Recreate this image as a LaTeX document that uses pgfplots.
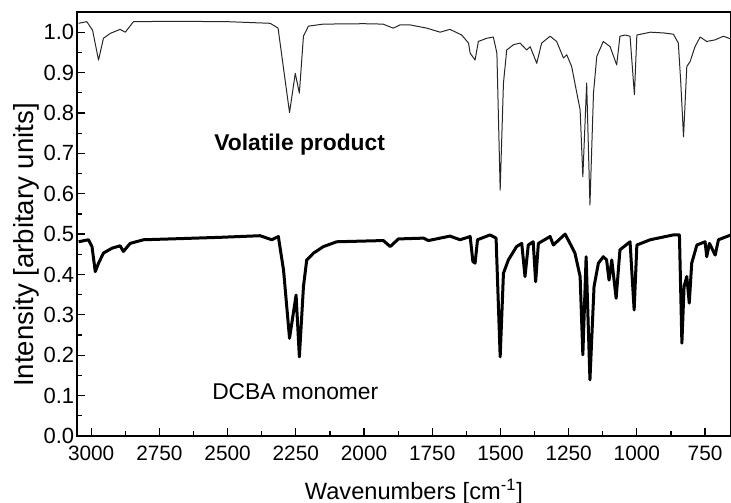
\documentclass[border=0pt]{standalone}
\usepackage{pgfplots}
\pgfplotsset{compat=1.18}
\usetikzlibrary{calc}
\usepackage{fontspec}
\setmainfont{Liberation Sans}
\begin{document}
\begin{tikzpicture}
\begin{axis}[
  name=ax,
  scale only axis, width=327pt, height=212pt,
  x dir=reverse, xmin=655, xmax=3052, ymin=0, ymax=1.05,
  xtick={750,1000,...,3000}, minor x tick num=1,
  ytick={0,0.1,...,1.0}, minor y tick num=1,
  tick pos=left, tick align=inside,
  major tick length=4pt, minor tick length=2.5pt,
  axis line style={line width=0.8pt}, tick style={line width=0.6pt, black},
  /pgf/number format/assume math mode=true,
  yticklabel style={font=\fontsize{11}{13}\selectfont, inner sep=0pt, xshift=-1.2pt,
     /pgf/number format/.cd, fixed, fixed zerofill, precision=1},
  xticklabel style={font=\fontsize{10.4}{12}\selectfont, inner sep=0pt, yshift=-5pt,
     /pgf/number format/1000 sep={}},
  scaled y ticks=false,
  xlabel={Wavenumbers [cm\textsuperscript{-1}]},
  ylabel={Intensity [arbitary units]},
  xlabel style={font=\fontsize{11.8}{14}\selectfont, inner sep=0pt,
     at={($(axis description cs:0.5,0)+(5pt,-21.5pt)$)}, anchor=north},
  ylabel style={font=\fontsize{13.8}{16}\selectfont, inner sep=0pt,
     at={($(axis description cs:0,0.5)+(-32pt,-10.5pt)$)}, anchor=north},
  clip=true,
  every axis plot/.append style={line join=round},
]
\addplot[line width=0.5pt, black!85] coordinates {
(3046,1.022) (3016,1.026) (2995,1.005) (2973,0.931) (2955,0.985) (2930,0.997) (2894,1.007) (2875,1.0) (2845,1.026)
(2700,1.027) (2500,1.026) (2344,1.022) (2315,1.01) (2296,0.915) (2273,0.801) (2252,0.898) (2237,0.849) (2222,0.99)
(2204,1.015) (2149,1.02) (2000,1.021) (1930,1.02) (1893,1.01) (1868,1.018) (1831,1.018) (1770,1.01) (1721,1.0)
(1685,1.007) (1642,0.993) (1617,0.973) (1611,0.948) (1593,0.931) (1581,0.977) (1550,0.985) (1526,0.988) (1513,0.948)
(1501,0.609) (1489,0.874) (1477,0.956) (1452,0.969) (1428,0.973) (1404,0.956) (1391,0.964) (1367,0.923) (1349,0.973)
(1318,0.99) (1294,0.977) (1269,0.936) (1257,0.944) (1239,0.915) (1220,0.849) (1208,0.808) (1198,0.642) (1184,0.874)
(1172,0.572) (1159,0.849) (1147,0.94) (1123,0.977) (1098,0.964) (1074,0.919) (1062,0.99) (1043,0.993) (1025,0.99)
(1009,0.845) (1000,0.993) (950,1.0) (900,0.998) (866,0.995) (848,0.973) (839,0.874) (829,0.741) (817,0.915)
(805,0.927) (787,0.964) (768,0.988) (744,0.977) (713,0.981) (683,0.99) (655,0.983)
};
\addplot[line width=1.5pt, black] coordinates {
(3046,0.481) (3010,0.486) (2997,0.469) (2985,0.407) (2973,0.428) (2955,0.453) (2924,0.465) (2894,0.471) (2882,0.457)
(2857,0.477) (2808,0.486) (2711,0.488) (2527,0.492) (2381,0.496) (2338,0.486) (2314,0.494) (2295,0.411) (2273,0.242)
(2249,0.349) (2237,0.196) (2222,0.37) (2210,0.436) (2185,0.453) (2149,0.469) (2100,0.481) (1929,0.484) (1904,0.469)
(1874,0.488) (1782,0.49) (1764,0.484) (1685,0.495) (1648,0.486) (1611,0.494) (1601,0.432) (1593,0.428) (1584,0.486)
(1538,0.498) (1516,0.49) (1501,0.196) (1489,0.403) (1471,0.436) (1441,0.469) (1422,0.477) (1410,0.395) (1398,0.473)
(1380,0.481) (1371,0.382) (1361,0.477) (1318,0.494) (1306,0.473) (1263,0.5) (1239,0.469) (1227,0.453) (1208,0.395)
(1198,0.201) (1186,0.444) (1172,0.139) (1157,0.37) (1141,0.428) (1123,0.444) (1111,0.436) (1102,0.386) (1092,0.436)
(1076,0.341) (1062,0.461) (1025,0.481) (1010,0.312) (1000,0.473) (951,0.486) (866,0.498) (844,0.498) (835,0.23)
(827,0.37) (817,0.395) (808,0.329) (799,0.428) (780,0.473) (750,0.481) (744,0.444) (734,0.477) (713,0.448)
(701,0.486) (655,0.498)
};
\node[font=\bfseries\fontsize{11.4}{13}\selectfont] at (axis cs:2236,0.721) {Volatile product};
\node[font=\fontsize{11.4}{13}\selectfont] at (axis cs:2252,0.11) {DCBA monomer};
\end{axis}
\pgfresetboundingbox
\path[use as bounding box] ($(ax.south west)+(-38.5pt,-33pt)$) rectangle ($(ax.north east)+(0pt,6pt)$);
\end{tikzpicture}
\end{document}
